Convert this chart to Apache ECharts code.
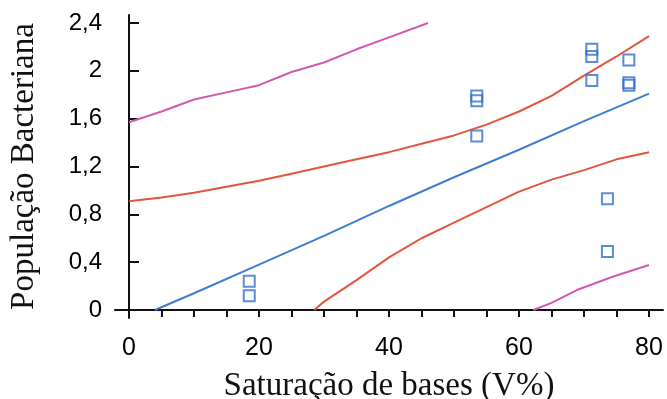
<!DOCTYPE html>
<html>
<head>
<meta charset="utf-8">
<script src="https://cdn.jsdelivr.net/npm/echarts@6/dist/echarts.min.js"></script>
<style>html,body{margin:0;padding:0;background:#fff}#c{width:667px;height:399px}</style>
</head>
<body>
<div id="c"></div>
<script>
// Tick labels
const xTickLabels = [0, 20, 40, 60, 80];
const xMinorTicks = [0,5,10,15,20,25,30,35,40,45,50,55,60,65,70,75,80];
const yTickLabels = [0, 0.4, 0.8, 1.2, 1.6, 2, 2.4];

// Observed points
const obsX = [18.5, 18.5, 53.5, 53.5, 53.5, 71.2, 71.2, 71.2, 73.6, 73.6, 76.9, 76.9, 76.9];
const obsY = [0.24, 0.12, 1.79, 1.75, 1.455, 2.18, 2.12, 1.92, 0.93, 0.49, 2.09, 1.90, 1.88];

// Regression line
const fitX = [4, 10, 20, 30, 40, 50, 60, 70, 80];
const fitY = [0, 0.14, 0.38, 0.62, 0.87, 1.11, 1.34, 1.58, 1.81];

// Confidence band (red)
const ciUpX = [0, 5, 10, 15, 20, 25, 30, 35, 40, 45, 50, 55, 60, 65, 70, 75, 80];
const ciUpY = [0.91, 0.94, 0.98, 1.03, 1.08, 1.14, 1.20, 1.26, 1.32, 1.39, 1.46, 1.55, 1.66, 1.79, 1.96, 2.12, 2.29];
const ciLoX = [28.5, 30, 35, 40, 45, 50, 55, 60, 65, 70, 75, 80];
const ciLoY = [0, 0.07, 0.25, 0.44, 0.60, 0.73, 0.86, 0.99, 1.09, 1.17, 1.26, 1.32];

// Prediction band (magenta)
const piUpX = [0, 5, 10, 15, 20, 25, 30, 35, 40, 46];
const piUpY = [1.57, 1.66, 1.76, 1.82, 1.88, 1.99, 2.07, 2.18, 2.28, 2.40];
const piLoX = [62.2, 65, 68.9, 74.5, 80];
const piLoY = [0, 0.06, 0.167, 0.28, 0.376];

const zip = (xs, ys) => xs.map((x, i) => [x, ys[i]]);
const fmt = v => String(v).replace('.', ',');

const chart = echarts.init(document.getElementById('c'), null, {renderer: 'canvas'});
const lineS = (name, xs, ys, color) => ({
  name, type: 'line', data: zip(xs, ys), showSymbol: false, smooth: false,
  lineStyle: {color, width: 2}, z: 2, silent: true
});
chart.setOption({
  animation: false,
  backgroundColor: '#fff',
  grid: {left: 115, right: 4, top: 15, bottom: 81, containLabel: false, outerBoundsMode: 'none'},
  xAxis: {
    type: 'value', min: -2.154, max: 82.15,
    axisLine: {lineStyle: {color: '#111', width: 2}},
    axisTick: {show: true, inside: false, length: 7, lineStyle: {color: '#111', width: 2}, customValues: xMinorTicks},
    axisLabel: {customValues: xTickLabels, formatter: fmt, fontFamily: 'Liberation Sans', fontSize: 25, color: '#000', margin: 18},
    splitLine: {show: false},
    name: 'Saturação de bases (V%)', nameLocation: 'middle', nameGap: 52,
    nameTextStyle: {fontFamily: 'Liberation Serif', fontSize: 33, color: '#111'}
  },
  yAxis: {
    type: 'value', min: -0.0669, max: 2.4669,
    axisLine: {show: true, lineStyle: {color: '#111', width: 2}},
    axisTick: {show: true, inside: true, length: 10, lineStyle: {color: '#111', width: 2}, customValues: yTickLabels},
    axisLabel: {customValues: yTickLabels, formatter: fmt, fontFamily: 'Liberation Sans', fontSize: 24, color: '#000', margin: 13},
    splitLine: {show: false},
    name: 'População Bacteriana', nameLocation: 'middle', nameRotate: 90, nameGap: 74,
    nameTextStyle: {fontFamily: 'Liberation Serif', fontSize: 33, color: '#111'}
  },
  series: [
    lineS('pi-up', piUpX, piUpY, '#d25aae'),
    lineS('pi-lo', piLoX, piLoY, '#d25aae'),
    lineS('ci-up', ciUpX, ciUpY, '#e4553f'),
    lineS('ci-lo', ciLoX, ciLoY, '#e4553f'),
    lineS('fit', fitX, fitY, '#3f7ed0'),
    {
      name: 'obs', type: 'scatter', data: zip(obsX, obsY), symbol: 'rect', symbolSize: 11,
      itemStyle: {color: 'rgba(255,255,255,0)', borderColor: '#3470c8', borderWidth: 2}, z: 3, silent: true
    }
  ]
});
</script>
</body>
</html>
